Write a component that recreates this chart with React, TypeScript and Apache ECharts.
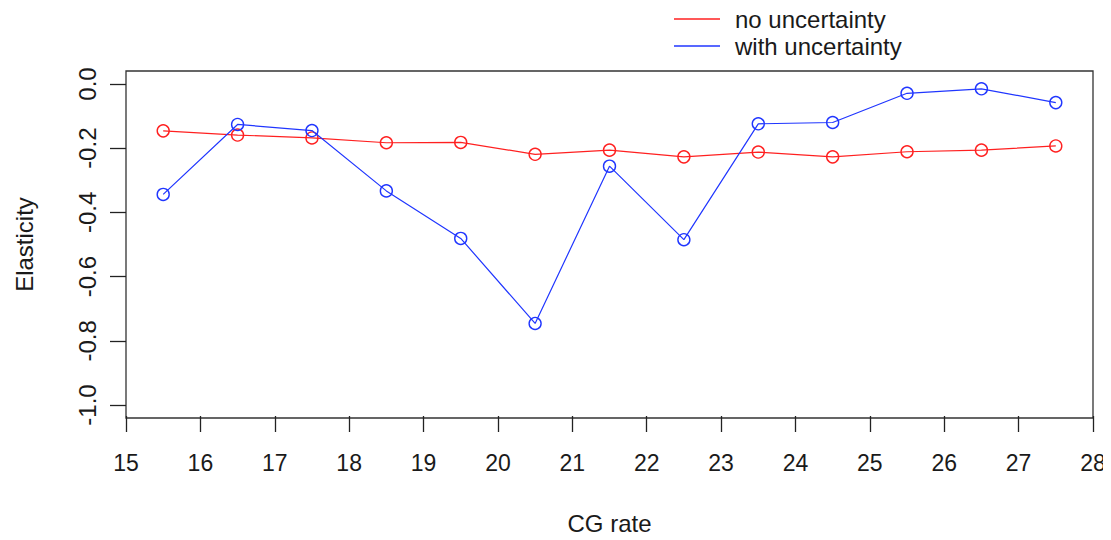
import React, { useEffect, useRef } from "react";
import * as echarts from "echarts";

const cgRate = [15.5, 16.5, 17.5, 18.5, 19.5, 20.5, 21.5, 22.5, 23.5, 24.5, 25.5, 26.5, 27.5];
const noUncertainty = [-0.146, -0.159, -0.168, -0.183, -0.182, -0.219, -0.206, -0.227, -0.212, -0.227, -0.211, -0.206, -0.193];
const withUncertainty = [-0.344, -0.126, -0.145, -0.333, -0.481, -0.746, -0.256, -0.485, -0.124, -0.12, -0.029, -0.015, -0.058];
const seriesNames = ["no uncertainty", "with uncertainty"];
const seriesColors = ["#ff2020", "#2036ff"];

const FONT = "Liberation Sans, Arial, sans-serif";
const TEXT = "#1a1a1a";

export default function App() {
  const ref = useRef<HTMLDivElement>(null);
  useEffect(() => {
    if (!ref.current) return;
    const chart = echarts.init(ref.current, null, { renderer: "svg" });
    const mk = (vals: number[]) => cgRate.map((x, i) => [x, vals[i]]);
    chart.setOption({
      animation: false,
      backgroundColor: "#fff",
      textStyle: { fontFamily: FONT },
      grid: { left: 126, right: 18, top: 84, bottom: 133 },
      legend: {
        orient: "vertical",
        left: 669,
        top: 2,
        itemWidth: 46,
        itemHeight: 1.4,
        itemGap: 3,
        icon: "rect",
        itemStyle: { borderWidth: 0 },
        data: seriesNames.map((n, i) => ({ name: n, itemStyle: { color: seriesColors[i], borderWidth: 0 } })),
        textStyle: { fontSize: 24, color: TEXT, fontFamily: FONT, padding: [0, 0, 0, 10], lineHeight: 24 },
      },
      graphic: [
        {
          type: "rect",
          shape: { x: 126, y: 71, width: 967, height: 347 },
          style: { fill: "none", stroke: "#333", lineWidth: 1.3 },
          silent: true,
          z: 0,
        },
      ],
      xAxis: {
        type: "value",
        min: 15,
        max: 28,
        interval: 1,
        offset: 11,
        name: "CG rate",
        nameLocation: "middle",
        nameGap: 95,
        nameTextStyle: { fontSize: 24, color: TEXT, fontFamily: FONT },
        axisLine: { show: false, onZero: false },
        axisTick: { show: true, length: 16, lineStyle: { color: "#222", width: 1.3 } },
        axisLabel: { fontSize: 23, color: TEXT, margin: 35, fontFamily: FONT },
        splitLine: { show: false },
      },
      yAxis: {
        type: "value",
        min: -1,
        max: 0,
        interval: 0.2,
        name: "Elasticity",
        nameLocation: "middle",
        nameGap: 90,
        nameRotate: 90,
        nameTextStyle: { fontSize: 24, color: TEXT, fontFamily: FONT },
        axisLine: { show: false },
        axisTick: { show: true, length: 16, lineStyle: { color: "#222", width: 1.3 } },
        axisLabel: {
          fontSize: 24,
          color: TEXT,
          rotate: 90,
          margin: 27,
          fontFamily: FONT,
          formatter: (v: number) => (Math.abs(v) < 1e-9 ? "0.0" : v.toFixed(1)),
        },
        splitLine: { show: false },
      },
      series: [0, 1].map((k) => ({
        name: seriesNames[k],
        type: "line",
        data: mk(k === 0 ? noUncertainty : withUncertainty),
        symbol: "circle",
        symbolSize: 12,
        showSymbol: true,
        color: seriesColors[k],
        lineStyle: { color: seriesColors[k], width: 1.2 },
        itemStyle: { color: "rgba(0,0,0,0)", borderColor: seriesColors[k], borderWidth: 1.4 },
        z: 3 + k,
      })),
    });
    return () => chart.dispose();
  }, []);
  return <div ref={ref} style={{ width: 1111, height: 540, marginLeft: -8, marginTop: -8 }} />;
}
